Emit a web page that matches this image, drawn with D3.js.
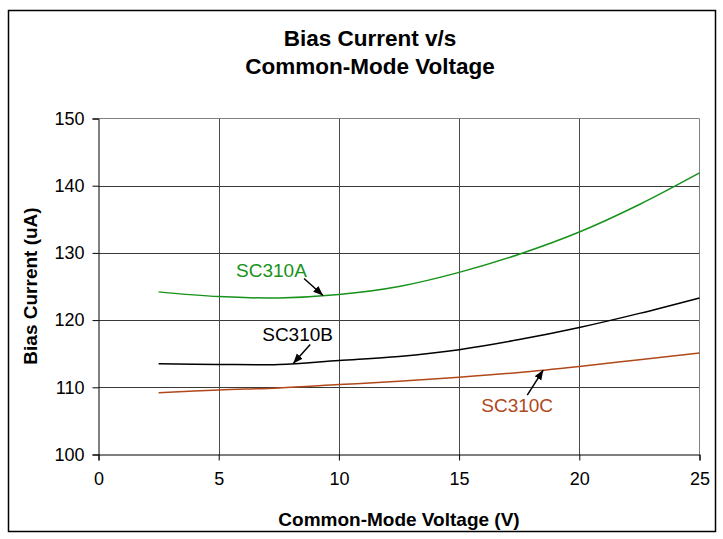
<!DOCTYPE html>
<html>
<head>
<meta charset="utf-8">
<script src="https://cdn.jsdelivr.net/npm/d3@7"></script>
<style>
  body { margin: 0; background: #fff; }
  text { font-family: "Liberation Sans", Arial, sans-serif; }
</style>
</head>
<body>
<div id="chart"></div>
<script>
// values
const voltages = [2.5, 5, 7.5, 10, 12.5, 15, 17.5, 20, 22.5, 25];
const sc310a = [124.2, 123.5, 123.3, 123.8, 125.0, 127.1, 129.8, 133.1, 137.2, 141.9];
const sc310b = [113.5, 113.4, 113.4, 114.0, 114.6, 115.6, 117.1, 118.9, 121.0, 123.3];
const sc310c = [109.2, 109.6, 109.9, 110.4, 110.9, 111.5, 112.2, 113.1, 114.1, 115.1];
const seriesNames = ["SC310A", "SC310B", "SC310C"];
const xTicks = [0, 5, 10, 15, 20, 25];
const yTicks = [100, 110, 120, 130, 140, 150];
// where each label's arrow points, in volts
const arrowAt = [9.34, 8.1, 18.5];

(function () {
  const width = 723
  const height = 539
  const svg = d3
    .select("#chart")
    .append("svg")
    .attr("width", width)
    .attr("height", height)

  const xPositionScale = d3.scaleLinear().domain([0, 25]).range([98.5, 699.5])
  const yPositionScale = d3.scaleLinear().domain([100, 150]).range([454.5, 118.5])

  const colors = ["#17921a", "#000000", "#b0481a"]
  const values = [sc310a, sc310b, sc310c]
  const series = seriesNames.map((name, i) => ({
    name: name,
    color: colors[i],
    points: voltages.map((v, j) => ({ x: v, y: values[i][j] }))
  }))

  // outer chart frame
  svg.append("rect")
    .attr("x", 8.5)
    .attr("y", 10.5)
    .attr("width", 707)
    .attr("height", 521)
    .attr("fill", "none")
    .attr("stroke", "#000")
    .attr("stroke-width", 1.5)

  // title
  svg.append("text")
    .attr("x", 370)
    .attr("y", 46)
    .attr("text-anchor", "middle")
    .attr("font-size", "22.5px")
    .attr("font-weight", "bold")
    .text("Bias Current v/s")
  svg.append("text")
    .attr("x", 370)
    .attr("y", 74)
    .attr("text-anchor", "middle")
    .attr("font-size", "22.5px")
    .attr("font-weight", "bold")
    .text("Common-Mode Voltage")

  // gridlines
  svg.selectAll(".hgrid")
    .data(yTicks.filter(d => d > 100 && d < 150))
    .enter().append("line")
    .attr("x1", xPositionScale(0))
    .attr("x2", xPositionScale(25))
    .attr("y1", d => Math.round(yPositionScale(d)) + 0.5)
    .attr("y2", d => Math.round(yPositionScale(d)) + 0.5)
    .attr("stroke", "#3a3a3a")
  svg.selectAll(".vgrid")
    .data(xTicks.filter(d => d > 0 && d < 25))
    .enter().append("line")
    .attr("x1", d => Math.round(xPositionScale(d)) + 0.5)
    .attr("x2", d => Math.round(xPositionScale(d)) + 0.5)
    .attr("y1", yPositionScale(150))
    .attr("y2", yPositionScale(100))
    .attr("stroke", "#4a4a4a")

  // plot area top + right edges are grey
  svg.append("path")
    .attr("d", "M" + xPositionScale(0) + "," + yPositionScale(150) +
      "H" + xPositionScale(25) + "V" + yPositionScale(100))
    .attr("fill", "none")
    .attr("stroke", "#808080")

  // axes
  const xAxis = d3.axisBottom(xPositionScale).tickValues(xTicks).tickSize(6).tickPadding(8)
  const yAxis = d3.axisLeft(yPositionScale).tickValues(yTicks).tickSize(6).tickPadding(8)
  const gx = svg.append("g")
    .attr("transform", "translate(0," + yPositionScale(100) + ")")
    .call(xAxis)
  const gy = svg.append("g")
    .attr("transform", "translate(" + xPositionScale(0) + ",0)")
    .call(yAxis)
  gx.selectAll("text").attr("font-size", "18px").attr("font-family", "Liberation Sans, Arial").attr("fill", "#000").attr("dy", "0.9em")
  gy.selectAll("text").attr("font-size", "18px").attr("font-family", "Liberation Sans, Arial").attr("fill", "#000")
  svg.selectAll(".domain, .tick line").attr("stroke", "#000")

  // axis titles
  svg.append("text")
    .attr("x", 399)
    .attr("y", 526)
    .attr("text-anchor", "middle")
    .attr("font-size", "19px")
    .attr("font-weight", "bold")
    .text("Common-Mode Voltage (V)")
  svg.append("text")
    .attr("transform", "translate(37,286) rotate(-90)")
    .attr("text-anchor", "middle")
    .attr("font-size", "19px")
    .attr("font-weight", "bold")
    .text("Bias Current (uA)")

  // smoothed lines like excel
  const line = d3.line()
    .x(d => xPositionScale(d.x))
    .y(d => yPositionScale(d.y))
    .curve(d3.curveCatmullRom)

  svg.selectAll(".series")
    .data(series)
    .enter().append("path")
    .attr("d", d => line(d.points))
    .attr("fill", "none")
    .attr("stroke", d => d.color)
    .attr("stroke-width", 1.5)

  // labels with arrows
  svg.append("defs").append("marker")
    .attr("id", "arrow")
    .attr("viewBox", "0 0 10 10")
    .attr("refX", 10)
    .attr("refY", 5)
    .attr("markerWidth", 6.5)
    .attr("markerHeight", 6.5)
    .attr("orient", "auto")
    .append("path")
    .attr("d", "M0,1L10,5L0,9z")
    .attr("fill", "#000")

  // offsets (px) of arrow tail and text from the point the arrow hits
  const tailOffsets = [[-19, -17], [17, -19], [-16, 25]]
  const textOffsets = [[-87, -18], [-31, -22], [-62, 42]]

  series.forEach((s, i) => {
    const v = arrowAt[i]
    const yAt = d3.scaleLinear().domain(voltages).range(values[i])(v)
    const px = xPositionScale(v)
    const py = yPositionScale(yAt)
    svg.append("line")
      .attr("x1", px + tailOffsets[i][0])
      .attr("y1", py + tailOffsets[i][1])
      .attr("x2", px)
      .attr("y2", py)
      .attr("stroke", "#000")
      .attr("stroke-width", 1.5)
      .attr("marker-end", "url(#arrow)")
    svg.append("text")
      .attr("x", px + textOffsets[i][0])
      .attr("y", py + textOffsets[i][1])
      .attr("font-size", "19px")
      .attr("fill", s.color)
      .text(s.name)
  })
})();
</script>
</body>
</html>
